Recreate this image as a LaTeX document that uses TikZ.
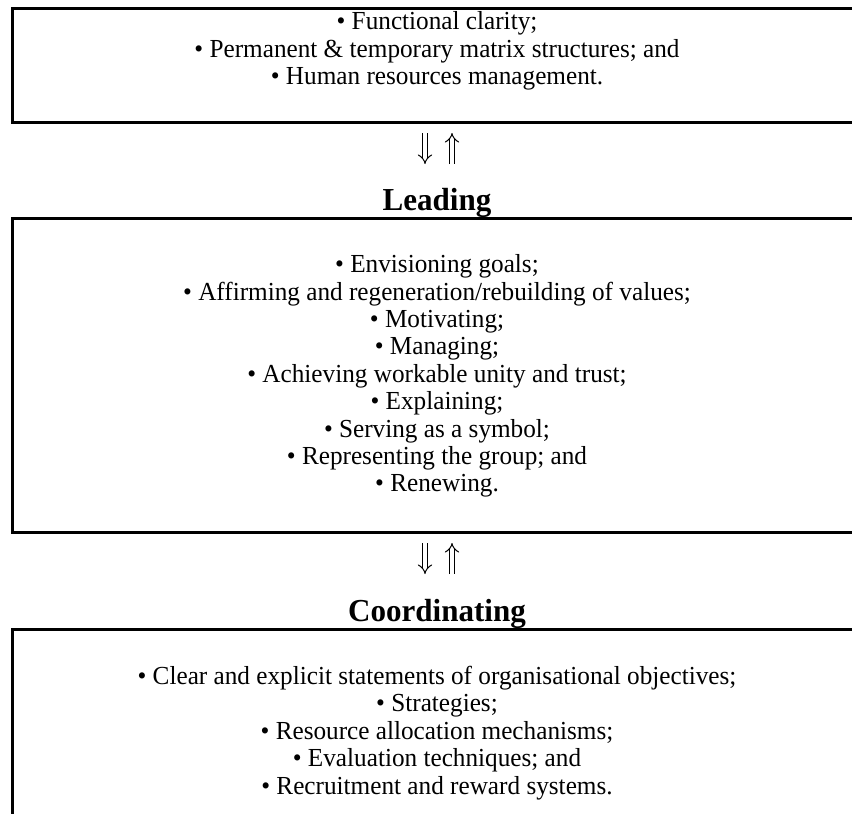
\documentclass[tikz,border=0pt]{standalone}
\usepackage{fontspec}
\setmainfont{Liberation Serif}[FakeStretch=0.97]
\usetikzlibrary{arrows.meta}
\tikzset{
  frame/.style={line width=3pt, line join=miter},
  item/.style={align=center, font=\fontsize{26}{27.4}\selectfont, inner sep=0pt},
  title/.style={font=\fontsize{32}{32}\selectfont\bfseries, inner sep=0pt, anchor=base},
  updown/.style={double, double distance=4pt, line width=1pt, -{Implies}}
}
\begin{document}
\begin{tikzpicture}[x=1pt,y=1pt]
\useasboundingbox (0,0) rectangle (852,-814);
\clip (0,0) rectangle (852,-814);
% frames (open on the right, cut by the page)
\draw[frame] (880,-8) -- (12,-8) -- (12,-122) -- (880,-122);
\draw[frame] (880,-218) -- (12,-218) -- (12,-532) -- (880,-532);
\draw[frame] (880,-629) -- (12,-629) -- (12,-840);
% texts
\node[item] (org) at (437,-51) {• Functional clarity;\\
  • Permanent \& temporary matrix structures; and\\
  • Human resources management.};
\node[title] (leadT) at (437,-210) {Leading};
\node[item] (lead) at (437,-376) {• Envisioning goals;\\
  • Affirming and regeneration/rebuilding of values;\\
  • Motivating;\\
  • Managing;\\
  • Achieving workable unity and trust;\\
  • Explaining;\\
  • Serving as a symbol;\\
  • Representing the group; and\\
  • Renewing.};
\node[title] (coordT) at (437,-621) {Coordinating};
\node[item] (coord) at (437,-733) {• Clear and explicit statements of organisational objectives;\\
  • Strategies;\\
  • Resource allocation mechanisms;\\
  • Evaluation techniques; and\\
  • Recruitment and reward systems.};
% double arrows between the blocks
\coordinate (a1top) at (425,-133);
\coordinate (a1bot) at (425,-164);
\coordinate (b1top) at (452,-133);
\coordinate (b1bot) at (452,-164);
\coordinate (a2top) at (425,-543);
\coordinate (a2bot) at (425,-574);
\coordinate (b2top) at (452,-543);
\coordinate (b2bot) at (452,-574);
\draw[updown] (a1top) -- (a1bot);
\draw[updown] (b1bot) -- (b1top);
\draw[updown] (a2top) -- (a2bot);
\draw[updown] (b2bot) -- (b2top);
\end{tikzpicture}
\end{document}
